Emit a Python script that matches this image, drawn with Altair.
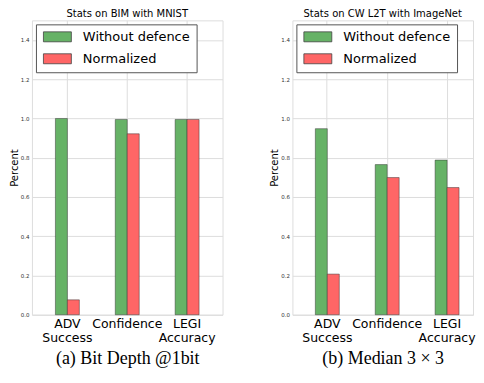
import altair as alt
import pandas as pd

categories = ["ADV\nSuccess", "Confidence", "LEGI\nAccuracy"]
series = ["Without defence", "Normalized"]
colors = ["#66b266", "#ff6666"]

bim_without = [1.0, 0.995, 0.995]
bim_norm = [0.076, 0.922, 0.995]
cw_without = [0.948, 0.765, 0.788]
cw_norm = [0.207, 0.699, 0.648]

titles = ["Stats on BIM with MNIST", "Stats on CW L2T with ImageNet"]
captions = ["(a)  Bit Depth @1bit", "(b)  Median 3 \u00d7 3"]
yticks = [0.0, 0.2, 0.4, 0.6, 0.8, 1.0, 1.2, 1.4]


def make_df(without, norm):
    rows = []
    for c, a, b in zip(categories, without, norm):
        rows.append({"cat": c, "series": series[0], "value": a})
        rows.append({"cat": c, "series": series[1], "value": b})
    return pd.DataFrame(rows)


def panel(df, title, caption, width, pad_outer, align):
    return alt.Chart(
        df,
        title=alt.Title(
            title, font="DejaVu Sans", fontSize=10, fontWeight="normal",
            color="black", offset=1,
        ),
    ).mark_bar(
        stroke="#333333", strokeWidth=0.8, strokeOpacity=0.6
    ).encode(
        x=alt.X(
            "cat:N",
            sort=categories,
            scale=alt.Scale(paddingInner=0.6, paddingOuter=pad_outer, align=align),
            axis=alt.Axis(
                title=caption,
                labelExpr="split(datum.label, '\\n')",
                labelAngle=0,
                grid=True,
                bandPosition=0.5,
                ticks=False,
                domain=False,
                labelFontSize=12.5,
                labelLineHeight=14,
                labelColor="black",
                labelPadding=3,
                labelFont="DejaVu Sans",
                titleFont="Liberation Serif",
                titleFontSize=18,
                titleFontWeight="normal",
                titleColor="black",
                titlePadding=5,
            ),
        ),
        xOffset=alt.XOffset(
            "series:N", sort=series, scale=alt.Scale(paddingInner=0, paddingOuter=0)
        ),
        y=alt.Y(
            "value:Q",
            scale=alt.Scale(domain=[0, 1.5], nice=False),
            axis=alt.Axis(
                values=yticks,
                format=".1f",
                title="Percent",
                grid=True,
                ticks=False,
                domain=False,
                labelFontSize=5.5,
                labelColor="#333333",
                labelPadding=3,
                labelFont="DejaVu Sans",
                titleFont="DejaVu Sans",
                titleFontSize=10,
                titleFontWeight="normal",
                titleColor="black",
                titlePadding=1,
            ),
        ),
        color=alt.Color(
            "series:N",
            sort=series,
            scale=alt.Scale(domain=series, range=colors),
            legend=alt.Legend(
                title=None,
                orient="top-left",
                offset=4,
                padding=6,
                fillColor="white",
                strokeColor="#555555",
                symbolType="M-1,-1H4.6V1H-1Z",
                symbolSize=100,
                symbolStrokeColor="#444444",
                symbolStrokeWidth=0.8,
                symbolOpacity=1,
                labelOffset=28,
                labelFontSize=13,
                labelFont="DejaVu Sans",
                labelColor="black",
                rowPadding=7,
            ),
        ),
    ).properties(width=width, height=295)


left = panel(make_df(bim_without, bim_norm), titles[0], captions[0], 191, 0.392, 0.5)
right = panel(make_df(cw_without, cw_norm), titles[1], captions[1], 181, 0.308, 0.622)

chart = alt.hconcat(left, right, spacing=45).resolve_legend(
    color="independent"
).properties(
    padding={"left": 0, "top": 0, "right": 0, "bottom": 0}
).configure_view(
    stroke="#555555", strokeWidth=1
).configure_axis(
    gridColor="#999999", gridDash=[1, 2], gridWidth=0.6
).configure(background="white")

chart.save("out.html", embed_options={"renderer": "svg", "actions": False})
